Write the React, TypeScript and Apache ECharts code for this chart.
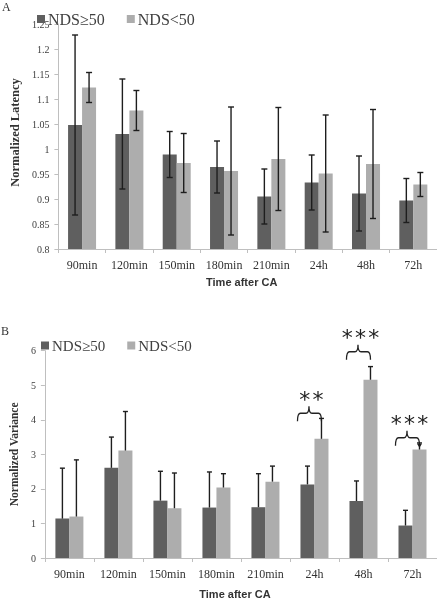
import React, { useEffect, useRef } from "react";
import * as echarts from "echarts";

const categories = ["90min", "120min", "150min", "180min", "210min", "24h", "48h", "72h"];
const seriesNames = ["NDS≥50", "NDS<50"];

const latencyHigh = [1.048, 1.03, 0.989, 0.964, 0.905, 0.933, 0.911, 0.897];
const latencyHighErr = [0.18, 0.11, 0.046, 0.052, 0.055, 0.055, 0.075, 0.044];
const latencyLow = [1.123, 1.077, 0.972, 0.956, 0.98, 0.951, 0.97, 0.929];
const latencyLowErr = [0.03, 0.04, 0.059, 0.128, 0.103, 0.117, 0.109, 0.024];

const varianceHigh = [1.14, 2.61, 1.66, 1.46, 1.47, 2.13, 1.65, 0.94];
const varianceHighErr = [1.46, 0.89, 0.85, 1.03, 0.97, 0.53, 0.58, 0.44];
const varianceLow = [1.2, 3.11, 1.44, 2.04, 2.21, 3.45, 5.16, 3.14];
const varianceLowErr = [1.64, 1.13, 1.02, 0.4, 0.45, 0.59, 0.38, 0.19];

const sigCategories = ["24h", "48h", "72h"];
const sigMarks = [2, 3, 3];
const sigLevels = [4.19, 5.97, 3.48];
const sigArrow = [false, false, true];

const DARK = "#5f5f5f";
const LIGHT = "#adadad";
const AXIS = "#bfbfbf";
const SERIF = "'Liberation Serif', 'Times New Roman', serif";
const SANS = "'Liberation Sans', Arial, sans-serif";

const Brace = (echarts.graphic as any).extendShape({
  shape: { x1: 0, x2: 0, xm: 0, y: 0, drop: 8, rise: 7 },
  buildPath(ctx: any, s: any) {
    const r = 3;
    ctx.moveTo(s.x1, s.y + s.drop);
    ctx.quadraticCurveTo(s.x1, s.y, s.x1 + r, s.y);
    ctx.lineTo(s.xm - r, s.y);
    ctx.quadraticCurveTo(s.xm, s.y, s.xm, s.y - s.rise);
    ctx.moveTo(s.xm, s.y - s.rise);
    ctx.quadraticCurveTo(s.xm, s.y, s.xm + r, s.y);
    ctx.lineTo(s.x2 - r, s.y);
    ctx.quadraticCurveTo(s.x2, s.y, s.x2, s.y + s.drop);
  },
});
(echarts.graphic as any).registerShape("brace", Brace);

function errSeries(name: string, gi: number, values: number[], errs: number[], offset: number, both: boolean, cap: number) {
  return {
    type: "custom",
    name,
    xAxisIndex: gi,
    yAxisIndex: gi,
    z: 10,
    silent: true,
    data: values.map((v, i) => [i, v, errs[i]]),
    encode: { x: 0, y: 1 },
    renderItem: (_p: any, api: any) => {
      const i = api.value(0);
      const v = api.value(1);
      const e = api.value(2);
      const hi = api.coord([i, v + e]);
      const lo = api.coord([i, both ? v - e : v]);
      const x = hi[0] + offset;
      const st = { stroke: "#1e1e1e", lineWidth: 1.4 };
      const children: any[] = [
        { type: "line", shape: { x1: x, y1: hi[1], x2: x, y2: lo[1] }, style: st },
        { type: "line", shape: { x1: x - cap / 2, y1: hi[1], x2: x + cap / 2, y2: hi[1] }, style: st },
      ];
      if (both) {
        children.push({ type: "line", shape: { x1: x - cap / 2, y1: lo[1], x2: x + cap / 2, y2: lo[1] }, style: st });
      }
      return { type: "group", children };
    },
  };
}

function xAxisCfg(gi: number, nameGap: number) {
  return {
    type: "category",
    gridIndex: gi,
    data: categories,
    axisLine: { lineStyle: { color: AXIS, width: 1 } },
    axisTick: { show: true, length: 4, lineStyle: { color: AXIS } },
    axisLabel: { color: "#333", fontFamily: SERIF, fontSize: 12, margin: 10, interval: 0 },
    name: "Time after CA",
    nameLocation: "middle",
    nameGap,
    nameTextStyle: { fontFamily: SANS, fontWeight: "bold", fontSize: 11, color: "#333", padding: [0, 12, 0, 0] },
  };
}

export default function App() {
  const ref = useRef<HTMLDivElement>(null);
  useEffect(() => {
    if (!ref.current) return;
    const chart = echarts.init(ref.current, null, { renderer: "svg" });
    const option: any = {
      animation: false,
      color: [DARK, LIGHT],
      legend: [
        {
          data: seriesNames,
          left: 32,
          top: 6,
          icon: "rect",
          itemWidth: 8,
          itemHeight: 8,
          itemGap: 22,
          textStyle: { fontFamily: SERIF, fontSize: 16, color: "#404040", padding: [0, 0, 0, -2] },
          selectedMode: false,
        },
        {
          data: seriesNames,
          left: 36,
          top: 333,
          icon: "rect",
          itemWidth: 8,
          itemHeight: 8,
          itemGap: 22,
          textStyle: { fontFamily: SERIF, fontSize: 15, color: "#404040", padding: [0, 0, 0, -2] },
          selectedMode: false,
        },
      ],
      grid: [
        { left: 50.5, top: 24, width: 396, height: 225 },
        { left: 44, top: 350.7, width: 402, height: 210 },
      ],
      xAxis: [xAxisCfg(0, 27), xAxisCfg(1, 30)],
      yAxis: [
        {
          type: "value",
          gridIndex: 0,
          min: 0.8,
          max: 1.25,
          interval: 0.05,
          axisLine: { show: true, lineStyle: { color: AXIS } },
          axisTick: { show: true, length: 4, lineStyle: { color: AXIS } },
          splitLine: { show: false },
          axisLabel: { color: "#404040", fontFamily: SERIF, fontSize: 10, margin: 9 },
          name: "Normalized Latency",
          nameLocation: "middle",
          nameRotate: 90,
          nameGap: 30,
          nameTextStyle: { fontFamily: SERIF, fontWeight: "bold", fontSize: 12.5, color: "#333", padding: [0, 0, 0, 8] },
        },
        {
          type: "value",
          gridIndex: 1,
          min: 0,
          max: 6,
          interval: 1,
          axisLine: { show: true, lineStyle: { color: AXIS } },
          axisTick: { show: true, length: 4, lineStyle: { color: AXIS } },
          splitLine: { show: false },
          axisLabel: { color: "#404040", fontFamily: SERIF, fontSize: 10, margin: 9 },
          name: "Normalized Variance",
          nameLocation: "middle",
          nameRotate: 90,
          nameGap: 24,
          nameTextStyle: { fontFamily: SERIF, fontWeight: "bold", fontSize: 11.5, color: "#333" },
        },
      ],
      series: [
        { type: "bar", name: seriesNames[0], xAxisIndex: 0, yAxisIndex: 0, data: latencyHigh, barWidth: 14, barGap: "0%", itemStyle: { color: DARK } },
        { type: "bar", name: seriesNames[1], xAxisIndex: 0, yAxisIndex: 0, data: latencyLow, barWidth: 14, barGap: "0%", itemStyle: { color: LIGHT } },
        { type: "bar", name: seriesNames[0], xAxisIndex: 1, yAxisIndex: 1, data: varianceHigh, barWidth: 14, barGap: "0%", itemStyle: { color: DARK } },
        { type: "bar", name: seriesNames[1], xAxisIndex: 1, yAxisIndex: 1, data: varianceLow, barWidth: 14, barGap: "0%", itemStyle: { color: LIGHT } },
        errSeries("errA1", 0, latencyHigh, latencyHighErr, -7, true, 6),
        errSeries("errA2", 0, latencyLow, latencyLowErr, 7, true, 6),
        errSeries("errB1", 1, varianceHigh, varianceHighErr, -7, false, 5),
        errSeries("errB2", 1, varianceLow, varianceLowErr, 7, false, 5),
      ],
      graphic: [
        { type: "text", left: 2, top: 1, style: { text: "A", fontFamily: SERIF, fontSize: 12, fill: "#333" } },
        { type: "text", left: 1, top: 325, style: { text: "B", fontFamily: SERIF, fontSize: 12, fill: "#333" } },
      ],
    };
    chart.setOption(option);

    const extra: any[] = [];
    sigCategories.forEach((cat, k) => {
      const p = chart.convertToPixel({ xAxisIndex: 1, yAxisIndex: 1 } as any, [cat, sigLevels[k]]) as number[];
      const cx = p[0];
      const y = p[1];
      const x1 = cx - 17;
      const x2 = cx + 7;
      const xm = cx - 5.5;
      extra.push({
        type: "brace",
        silent: true,
        shape: { x1, x2, xm, y, drop: 8, rise: 7 },
        style: { stroke: "#222", fill: "none", lineWidth: 1.3 },
      });
      if (sigArrow[k]) {
        extra.push({
          type: "polygon",
          silent: true,
          shape: { points: [[x2 - 2.5, y + 6], [x2 + 2.5, y + 6], [x2, y + 10]] },
          style: { fill: "#222" },
        });
      }
      const n = sigMarks[k];
      for (let j = 0; j < n; j++) {
        extra.push({
          type: "text",
          silent: true,
          x: cx - 3 + (j - (n - 1) / 2) * 13.3,
          y: y - 14,
          style: { text: "*", fontFamily: "'DejaVu Sans', sans-serif", fontSize: 22, fill: "#222", align: "center", verticalAlign: "middle" },
        });
      }
    });
    chart.setOption({ graphic: [...option.graphic, ...extra] });

    return () => chart.dispose();
  }, []);
  return <div ref={ref} style={{ position: "fixed", left: 0, top: 0, width: 437, height: 600 }} />;
}
